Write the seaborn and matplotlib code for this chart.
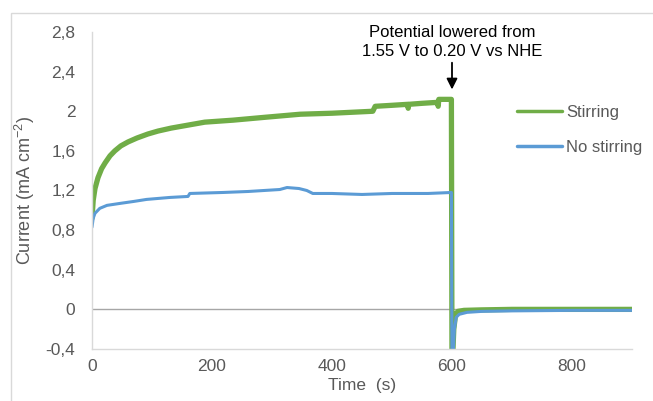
import matplotlib
matplotlib.use("Agg")
import matplotlib.pyplot as plt
from matplotlib.patches import Rectangle
import seaborn as sns
import pandas as pd

# ---- data ----
time_stir = [0, 2, 5, 10, 16, 22, 30, 38, 48, 60, 75, 93, 110, 132, 160, 188,
             235, 290, 347, 400, 468, 472, 500, 526, 527, 528, 550, 576, 577,
             578, 599, 600, 601, 603, 606, 610, 620, 650, 700, 800, 900]
cur_stir = [0.92, 1.10, 1.22, 1.33, 1.42, 1.48, 1.55, 1.60, 1.65, 1.69, 1.73,
            1.77, 1.80, 1.83, 1.86, 1.89, 1.91, 1.94, 1.97, 1.98, 2.00, 2.05,
            2.06, 2.07, 2.03, 2.07, 2.08, 2.09, 2.05, 2.12, 2.12, -0.60, -0.50,
            -0.20, -0.05, -0.02, -0.01, -0.005, 0.0, 0.0, 0.0]

time_nostir = [0, 2, 5, 13, 25, 47, 70, 91, 130, 160, 163, 218, 260, 313, 325,
               345, 358, 368, 400, 450, 500, 560, 599, 600, 602, 604, 607, 612,
               625, 650, 700, 800, 900]
cur_nostir = [0.83, 0.92, 0.97, 1.02, 1.05, 1.07, 1.09, 1.11, 1.13, 1.14, 1.17,
              1.18, 1.19, 1.21, 1.23, 1.22, 1.20, 1.17, 1.17, 1.16, 1.17, 1.17,
              1.18, -0.60, -0.45, -0.20, -0.08, -0.05, -0.03, -0.02, -0.015,
              -0.01, -0.01]

series_names = ["Stirring", "No stirring"]
y_ticks = [-0.4, 0, 0.4, 0.8, 1.2, 1.6, 2.0, 2.4, 2.8]
y_tick_labels = ["-0,4", "0", "0,4", "0,8", "1,2", "1,6", "2", "2,4", "2,8"]
x_ticks = [0, 200, 400, 600, 800]
x_tick_labels = ["0", "200", "400", "600", "800"]

df = pd.concat([
    pd.DataFrame({"t": time_stir, "i": cur_stir, "s": series_names[0]}),
    pd.DataFrame({"t": time_nostir, "i": cur_nostir, "s": series_names[1]}),
], ignore_index=True)

sns.set_theme(style="white")
plt.rcParams["font.family"] = ["Liberation Sans", "DejaVu Sans"]
plt.rcParams["mathtext.fontset"] = "custom"
plt.rcParams["mathtext.rm"] = "Liberation Sans"
plt.rcParams["mathtext.it"] = "Liberation Sans"

GRAY = "#595959"
GREEN = "#70AD47"
BLUE = "#5B9BD5"

fig = plt.figure(figsize=(6.53, 4.01), dpi=100)
ax = fig.add_axes([92 / 653, 1 - 349 / 401, (632 - 92) / 653, (349 - 32) / 401])

# figure border (clipped at right/bottom like reference)
fig.patches.append(Rectangle((11 / 653, -0.1), 1.2, 1 - 13 / 401 + 0.1,
                             transform=fig.transFigure, fill=False,
                             edgecolor="#D9D9D9", lw=1.0))

sns.lineplot(data=df[df.s == series_names[0]], x="t", y="i", ax=ax,
             color=GREEN, lw=3.8, estimator=None, sort=False,
             label=series_names[0])
sns.lineplot(data=df[df.s == series_names[1]], x="t", y="i", ax=ax,
             color=BLUE, lw=2.2, estimator=None, sort=False,
             label=series_names[1])

ax.axhline(0, color="#A6A6A6", lw=1.0, zorder=0)

ax.set_xlim(0, 900)
ax.set_ylim(-0.4, 2.8)
ax.set_xticks(x_ticks)
ax.set_xticklabels(x_tick_labels)
ax.set_yticks(y_ticks)
ax.set_yticklabels(y_tick_labels)
ax.tick_params(axis="both", length=0, labelsize=12.5, labelcolor=GRAY, pad=7)
ax.tick_params(axis="y", pad=12)

for side in ["top", "right"]:
    ax.spines[side].set_visible(False)
ax.spines["left"].set_color("#D9D9D9")
ax.spines["bottom"].set_color("#D9D9D9")
ax.spines["left"].set_linewidth(1.0)
ax.spines["bottom"].set_linewidth(1.0)

ax.set_xlabel("Time  (s)", fontsize=12.5, color=GRAY, labelpad=3)
ax.set_ylabel("Current (mA cm$^{-2}$)", fontsize=13, color=GRAY, labelpad=6)

ax.text(600, 2.70, "Potential lowered from\n1.55 V to 0.20 V vs NHE",
        ha="center", va="center", fontsize=12, color="black",
        linespacing=1.3, clip_on=False)
ax.annotate("", xy=(600, 2.22), xytext=(600, 2.49),
            arrowprops=dict(arrowstyle="-|>", color="black", lw=1.3,
                            mutation_scale=16, shrinkA=0, shrinkB=0),
            annotation_clip=False)

leg = ax.legend(loc="upper left", bbox_to_anchor=(510 / 653, 1 - 98 / 401),
                bbox_transform=fig.transFigure, frameon=False, fontsize=12,
                handlelength=2.7, handletextpad=0.25, labelspacing=1.22,
                borderaxespad=0)
for txt in leg.get_texts():
    txt.set_color(GRAY)
for line in leg.get_lines():
    line.set_linewidth(2.5)

fig.savefig("out.png", dpi=100)
